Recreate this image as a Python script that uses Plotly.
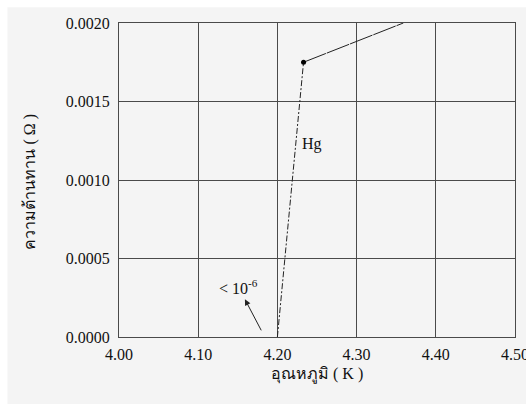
import plotly.graph_objects as go

# Data
steep_T = [4.20, 4.233]          # temperature (K), transition segment
steep_R = [0.0, 0.00175]         # resistance (ohm)
normal_T = [4.233, 4.359]        # normal-state segment
normal_R = [0.00175, 0.0020]
dot_T = [4.233]
dot_R = [0.00175]
x_ticks = [4.00, 4.10, 4.20, 4.30, 4.40, 4.50]
y_ticks = [0.0000, 0.0005, 0.0010, 0.0015, 0.0020]

FONT = "Liberation Serif"
LINE = "#222222"
GRID = "#4a4a4a"
TXT = "#111111"

fig = go.Figure()
fig.add_trace(go.Scatter(x=steep_T, y=steep_R, mode="lines",
                         line=dict(color=LINE, width=1, dash="6px,2px,2px,2px"),
                         showlegend=False, hoverinfo="skip"))
fig.add_trace(go.Scatter(x=normal_T, y=normal_R, mode="lines",
                         line=dict(color=LINE, width=1, dash="24px,1px"),
                         showlegend=False, hoverinfo="skip"))
fig.add_trace(go.Scatter(x=dot_T, y=dot_R, mode="markers",
                         marker=dict(color="#000000", size=5),
                         showlegend=False, hoverinfo="skip"))

# white strips at top / left of the page (scan border)
fig.add_shape(type="rect", xref="paper", yref="paper",
              x0=-0.31, x1=-0.2816, y0=-0.3, y1=1.08,
              fillcolor="white", line=dict(width=0), layer="below")
fig.add_shape(type="rect", xref="paper", yref="paper",
              x0=-0.31, x1=1.1, y0=1.05, y1=1.08,
              fillcolor="white", line=dict(width=0), layer="below")

fig.add_annotation(x=4.228, y=0.00123, xref="x", yref="y", text="Hg",
                   showarrow=False, xanchor="left", yanchor="middle",
                   font=dict(family=FONT, size=16, color=TXT))
fig.add_annotation(x=4.151, y=0.00032, xref="x", yref="y",
                   text="< 10<sup>-6</sup>",
                   showarrow=False, xanchor="center", yanchor="middle",
                   font=dict(family=FONT, size=16, color=TXT))
fig.add_annotation(x=4.159, y=0.00024, ax=4.184, ay=0.0,
                   xref="x", yref="y", axref="x", ayref="y",
                   text=" ", showarrow=True, arrowhead=2, arrowsize=1.2,
                   arrowwidth=1, arrowcolor=LINE)

# axis titles
fig.add_annotation(x=0.5, y=-0.121, xref="paper", yref="paper",
                   text="อุณหภูมิ ( K )", showarrow=False,
                   xanchor="center", yanchor="middle",
                   font=dict(family=FONT, size=16, color=TXT))
fig.add_annotation(x=-0.224, y=0.496, xref="paper", yref="paper",
                   text="ความต้านทาน ( Ω )", showarrow=False, textangle=-90,
                   xanchor="center", yanchor="middle",
                   font=dict(family=FONT, size=16, color=TXT))

fig.update_layout(
    width=526, height=404,
    margin=dict(l=119, r=11, t=23, b=67),
    paper_bgcolor="#f4f4f4", plot_bgcolor="#f4f4f4",
    font=dict(family=FONT, size=16, color=TXT),
    showlegend=False,
)
fig.update_xaxes(range=[4.00, 4.50], tickvals=x_ticks,
                 ticktext=[f"{v:.2f}" for v in x_ticks],
                 showgrid=True, gridcolor=GRID, gridwidth=1,
                 showline=True, linecolor=GRID, linewidth=1, mirror=True,
                 zeroline=False, ticks="", ticklabelstandoff=3,
                 ticklabeloverflow="allow", automargin=False,
                 tickfont=dict(family=FONT, size=16, color=TXT))
fig.update_yaxes(range=[0.0, 0.0020], tickvals=y_ticks,
                 ticktext=[f"{v:.4f}" for v in y_ticks],
                 showgrid=True, gridcolor=GRID, gridwidth=1,
                 showline=True, linecolor=GRID, linewidth=1, mirror=True,
                 zeroline=False, ticks="", ticklabelstandoff=5,
                 automargin=False,
                 tickfont=dict(family=FONT, size=16, color=TXT))

fig.write_html("out.html")
